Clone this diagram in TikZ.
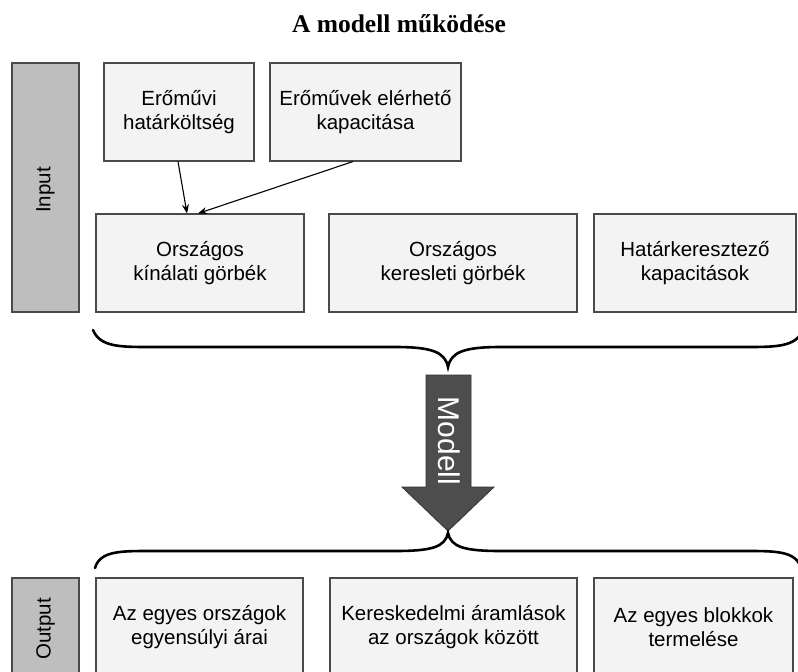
\documentclass[tikz,border=0pt]{standalone}
\usepackage{fontspec}
\setmainfont{Liberation Sans}
\newfontfamily\titlefont{Liberation Serif}
\usetikzlibrary{arrows.meta}
\definecolor{boxfill}{HTML}{F3F3F3}
\definecolor{boxline}{HTML}{4A4A4A}
\definecolor{barfill}{HTML}{BEBEBE}
\definecolor{arrowfill}{HTML}{4D4D4D}
\tikzset{
  inbox/.style={draw=boxline, fill=boxfill, line width=1.1pt, align=center, inner sep=0pt,
    minimum height=98pt, font=\fontsize{20.5}{24}\selectfont},
  sidebar/.style={draw=boxline, fill=barfill, line width=1.1pt, inner sep=0pt, minimum width=67pt},
  sidelabel/.style={rotate=90, font=\fontsize{20.5}{24}\selectfont},
  brace/.style={line width=2.6pt, line cap=round},
  link/.style={line width=1.1pt, -{Stealth[length=9pt,width=7pt]}}
}
\begin{document}
\begin{tikzpicture}[x=1pt,y=-1pt]
\useasboundingbox (0,0) rectangle (798,672);
\clip (0,0) rectangle (798,672);
\fill[white] (0,0) rectangle (798,672);
% title
\node[font=\titlefont\bfseries\fontsize{25.5}{30}\selectfont, anchor=base] (title) at (399,32) {A modell működése};
% input side bar
\node[sidebar, minimum height=249pt] (inbar) at (45.5,187.5) {};
\node[sidelabel] (inlab) at (45.5,190) {Input};
% input boxes
\node[inbox, minimum width=150pt] (a) at (179,112) {Erőművi\\határköltség};
\node[inbox, minimum width=191pt] (b) at (365.5,112) {Erőművek elérhető\\kapacitása};
\node[inbox, minimum width=208pt] (c) at (200,263) {Országos\\kínálati görbék};
\node[inbox, minimum width=248pt] (d) at (453,263) {Országos\\keresleti görbék};
\node[inbox, minimum width=202pt] (e) at (695,263) {Határkeresztező\\kapacitások};
% connectors
\draw[link] ([xshift=-1pt]a.south) -- ([xshift=-13pt]c.north);
\draw[link] ([xshift=-12.5pt]b.south) -- ([xshift=-2pt]c.north);
% upper brace
\draw[brace] (93,330) .. controls (100,347) and (120,347) .. (150,347) -- (395,347)
  .. controls (432,347) and (445,352) .. (448,367)
  .. controls (451,352) and (464,347) .. (501,347) -- (746,347)
  .. controls (776,347) and (796,347) .. (803,330);
% model arrow
\fill[arrowfill, draw=black!80, line width=0.8pt] (426,375) -- (471,375) -- (471,487) -- (494,487)
  -- (448,531) -- (402,487) -- (426,487) -- cycle;
\node[rotate=-90, text=white, font=\fontsize{30}{34}\selectfont] (modell) at (449,441) {Modell};
% lower brace
\draw[brace] (95,568) .. controls (100,551) and (120,551) .. (150,551) -- (395,551)
  .. controls (432,551) and (445,547) .. (448,533)
  .. controls (451,547) and (464,551) .. (501,551) -- (746,551)
  .. controls (776,551) and (796,551) .. (801,568);
% output side bar
\node[sidebar, minimum height=98pt] (outbar) at (45.5,627) {};
\node[sidelabel] (outlab) at (45.5,629) {Output};
% output boxes
\node[inbox, minimum width=207pt] (f) at (199.5,627) {Az egyes országok\\egyensúlyi árai};
\node[inbox, minimum width=247pt] (g) at (453.5,627) {Kereskedelmi áramlások\\az országok között};
\node[inbox, minimum width=199pt] (h) at (693.5,627) {Az egyes blokkok\\termelése};
\end{tikzpicture}
\end{document}
